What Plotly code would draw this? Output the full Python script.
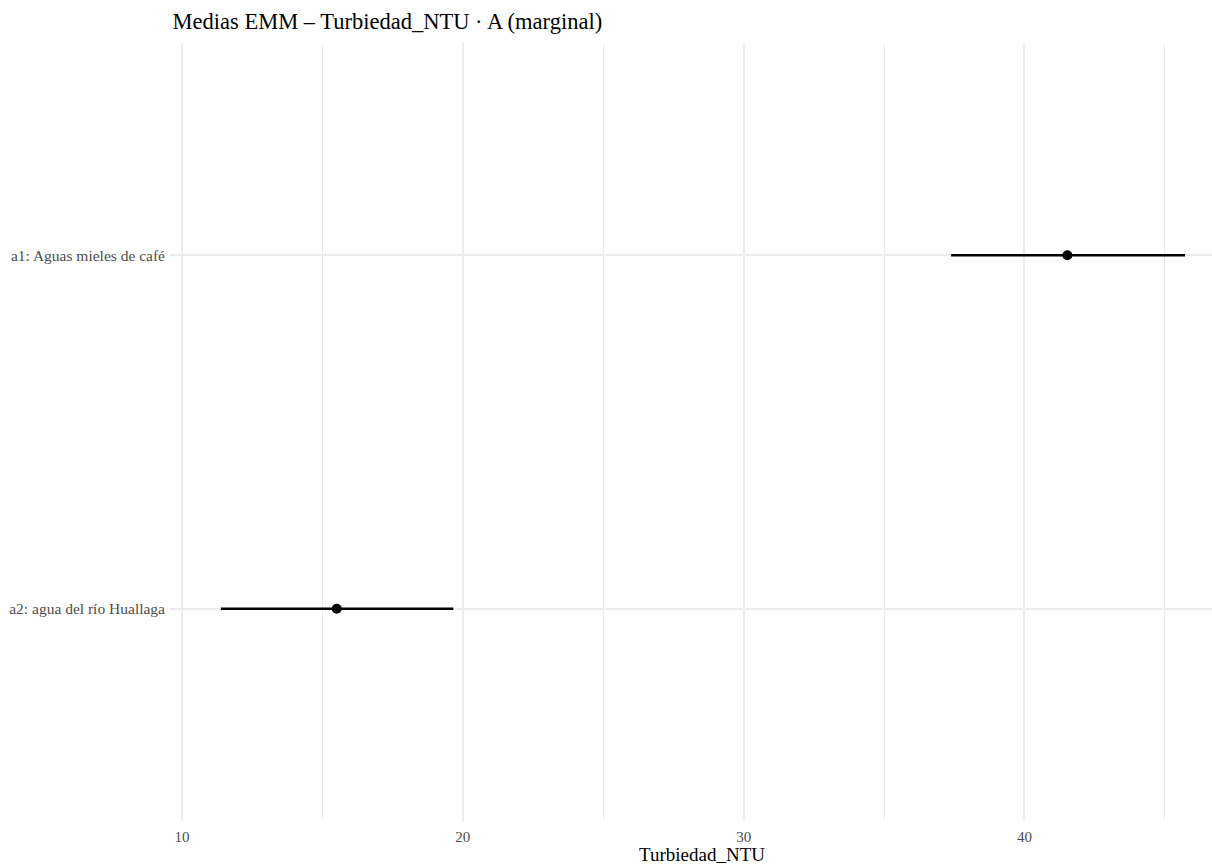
import plotly.graph_objects as go

# Estimated marginal means of turbidity by factor A, with confidence limits
niveles = ["a1: Aguas mieles de café", "a2: agua del río Huallaga"]
media = [41.53, 15.51]
li = [37.39, 11.38]
ls = [45.72, 19.66]

serif = "Liberation Serif, Times New Roman, serif"

fig = go.Figure()
fig.add_trace(go.Scatter(
    x=media,
    y=niveles,
    mode="markers",
    marker=dict(color="black", size=10),
    error_x=dict(
        type="data",
        symmetric=False,
        array=[s - m for s, m in zip(ls, media)],
        arrayminus=[m - l for m, l in zip(media, li)],
        color="black",
        thickness=2.4,
        width=0,
    ),
    showlegend=False,
))

fig.update_layout(
    width=1212,
    height=864,
    paper_bgcolor="white",
    plot_bgcolor="white",
    margin=dict(l=170, r=0, t=43, b=43),
    font=dict(family=serif, color="#4d4d4d", size=15),
    title=dict(
        text="Medias EMM – Turbiedad_NTU · A (marginal)",
        font=dict(family=serif, size=22.5, color="black"),
        x=0.0025, xref="paper", xanchor="left",
        y=0.975, yref="container", yanchor="middle",
    ),
)

fig.update_xaxes(
    range=[9.57, 46.68],
    tickmode="array",
    tickvals=[10, 20, 30, 40],
    showgrid=True,
    gridcolor="#ebebeb",
    gridwidth=1.8,
    zeroline=False,
    showline=False,
    ticks="",
    ticklabelstandoff=5,
    tickfont=dict(size=15, color="#4d4d4d"),
    minor=dict(tickvals=[15, 25, 35, 45], showgrid=True, gridcolor="#ebebeb", gridwidth=1),
)

fig.update_yaxes(
    type="category",
    categoryorder="array",
    categoryarray=niveles[::-1],
    range=[-0.6, 1.6],
    showgrid=True,
    gridcolor="#ebebeb",
    gridwidth=1.8,
    zeroline=False,
    showline=False,
    ticks="",
    ticklabelstandoff=4,
    tickfont=dict(size=15.5, color="#4d4d4d"),
)

# Axis title centred under the full panel width
fig.add_annotation(
    text="Turbiedad_NTU",
    xref="paper", yref="paper",
    x=0.5106, y=0, yshift=-46,
    xanchor="center", yanchor="bottom",
    showarrow=False,
    font=dict(family=serif, size=19, color="black"),
)

fig.write_html("out.html")
